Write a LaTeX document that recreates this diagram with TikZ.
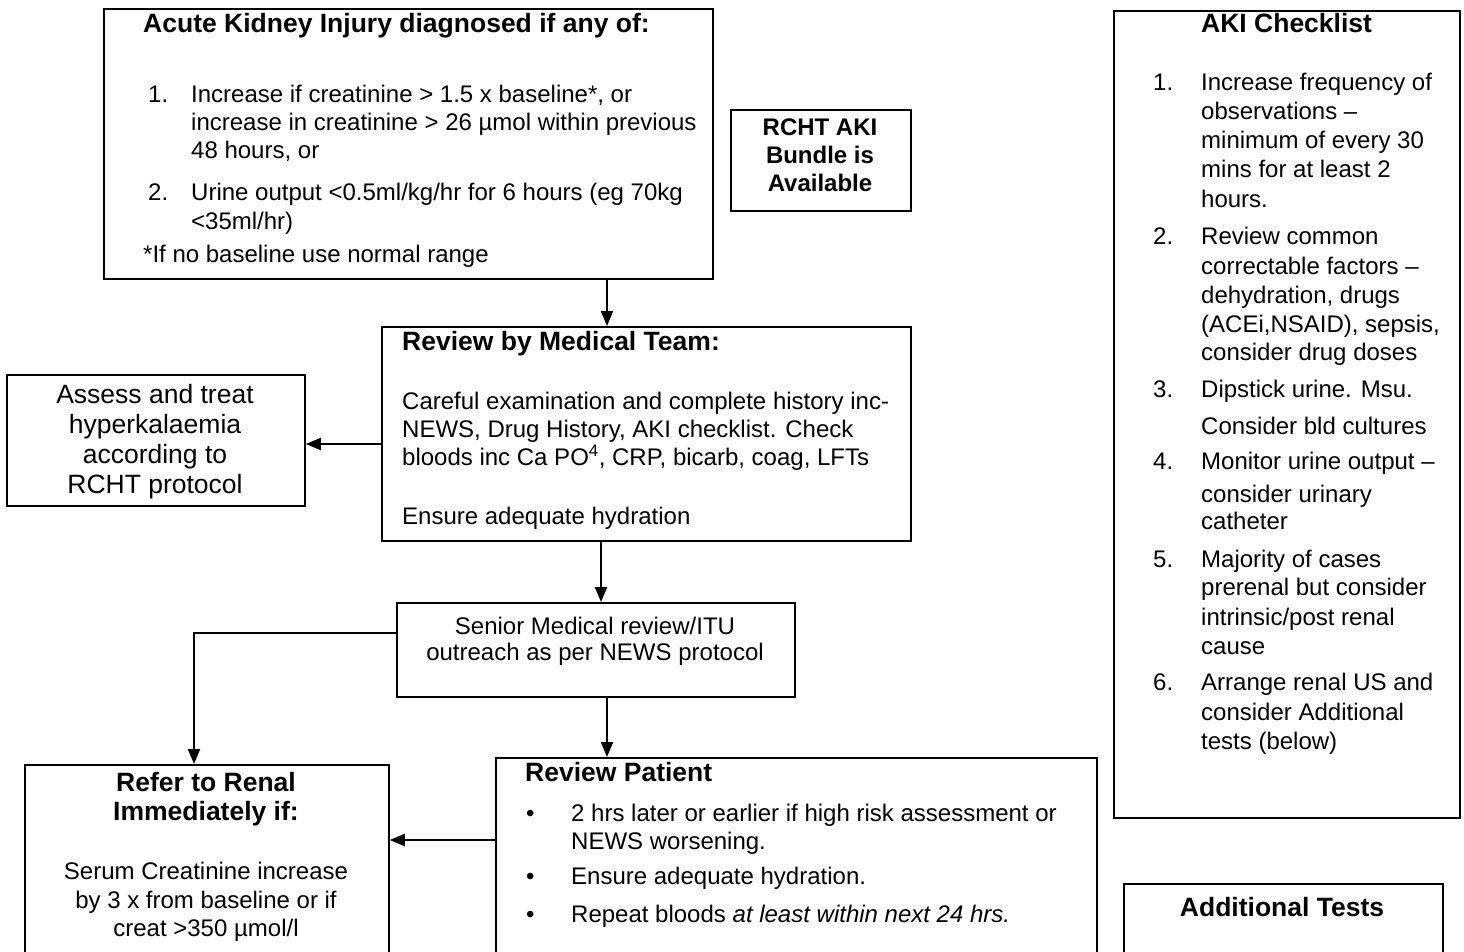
\documentclass[tikz,border=0pt]{standalone}
\usepackage{fontspec}
\setmainfont{Liberation Sans}
\usetikzlibrary{arrows.meta}
\begin{document}
\begin{tikzpicture}[x=1pt,y=-1pt,
  box/.style={draw, line width=1.8pt, inner sep=0pt, anchor=north west},
  conn/.style={line width=2pt, -{Triangle[length=15pt,width=12pt]}},
  bt/.style={anchor=base west, inner sep=0pt, font=\fontsize{24}{28}\selectfont},
  bc/.style={anchor=base, inner sep=0pt, font=\fontsize{24}{28}\selectfont},
  bcb/.style={anchor=base, inner sep=0pt, font=\fontsize{24}{28}\selectfont\bfseries},
  lc/.style={anchor=base, inner sep=0pt, font=\fontsize{26.5}{30}\selectfont},
  tt/.style={anchor=base west, inner sep=0pt, font=\fontsize{26.5}{30}\selectfont\bfseries},
  tc/.style={anchor=base, inner sep=0pt, font=\fontsize{26.5}{30}\selectfont\bfseries}]
\useasboundingbox (0,0) rectangle (1464,951);
\fill[white] (0,0) rectangle (1464,951);
\clip (0,0) rectangle (1464,951);

% boxes
\node[box, minimum width=609pt, minimum height=270pt] (aki) at (103,8) {};
\node[box, minimum width=180pt, minimum height=101pt] (rcht) at (730,109) {};
\node[box, minimum width=529pt, minimum height=214pt] (rev) at (381,326) {};
\node[box, minimum width=298pt, minimum height=131pt] (assess) at (6,374) {};
\node[box, minimum width=398pt, minimum height=94pt] (senior) at (396,602) {};
\node[box, minimum width=364pt, minimum height=230pt] (refer) at (24,764) {};
\node[box, minimum width=601pt, minimum height=240pt] (revp) at (495,757) {};
\node[box, minimum width=346pt, minimum height=807pt] (chk) at (1113,10) {};
\node[box, minimum width=319pt, minimum height=120pt] (addt) at (1123,883) {};

% AKI box text
\node[tt] (a0) at (143,32.5) {Acute Kidney Injury diagnosed if any of:};
\node[bt] (a1n) at (148,102.5) {1.};
\node[bt] (a1) at (191,102.5) {Increase if creatinine > 1.5 x baseline*, or};
\node[bt] (a2) at (191,130.5) {increase in creatinine > 26 µmol within previous};
\node[bt] (a3) at (191,158.5) {48 hours, or};
\node[bt] (a4n) at (148,200.5) {2.};
\node[bt] (a4) at (191,200.5) {Urine output <0.5ml/kg/hr for 6 hours (eg 70kg};
\node[bt] (a5) at (191,229.5) {<35ml/hr)};
\node[bt] (a6) at (143,262.5) {*If no baseline use normal range};

% RCHT box
\node[bcb] (r1) at (820,135.5) {RCHT AKI};
\node[bcb] (r2) at (820,163.5) {Bundle is};
\node[bcb] (r3) at (820,191.5) {Available};

% Review by medical team
\node[tt] (m0) at (402,350.5) {Review by Medical Team:};
\node[bt] (m1) at (402,409.5) {Careful examination and complete history inc-};
\node[bt] (m2) at (402,437.5) {NEWS, Drug History, AKI checklist. Check};
\node[bt] (m3) at (402,465.5) {bloods inc Ca PO\textsuperscript{4}, CRP, bicarb, coag, LFTs};
\node[bt] (m4) at (402,524.5) {Ensure adequate hydration};

% Assess box
\node[lc] (h1) at (155,403.5) {Assess and treat};
\node[lc] (h2) at (155,433.5) {hyperkalaemia};
\node[lc] (h3) at (155,463.5) {according to};
\node[lc] (h4) at (155,493.5) {RCHT protocol};

% Senior box
\node[bc] (s1) at (595,634.5) {Senior Medical review/ITU};
\node[bc] (s2) at (595,660.5) {outreach as per NEWS protocol};

% Refer box
\node[tc] (f1) at (206,791.5) {Refer to Renal};
\node[tc] (f2) at (206,820.5) {Immediately if:};
\node[bc] (f3) at (206,879.5) {Serum Creatinine increase};
\node[bc] (f4) at (206,908.5) {by 3 x from baseline or if};
\node[bc] (f5) at (206,936.5) {creat >350 µmol/l};

% Review patient
\node[tt] (p0) at (525,781.5) {Review Patient};
\node[bt] (p1b) at (526,821.5) {•};
\node[bt] (p1) at (571,821.5) {2 hrs later or earlier if high risk assessment or};
\node[bt] (p2) at (571,849.5) {NEWS worsening.};
\node[bt] (p3b) at (526,884.5) {•};
\node[bt] (p3) at (571,884.5) {Ensure adequate hydration.};
\node[bt] (p4b) at (526,922.5) {•};
\node[bt] (p4) at (571,922.5) {Repeat bloods \textit{at least within next 24 hrs.}};

% AKI checklist
\node[tt] (c0) at (1201,32.5) {AKI Checklist};
\node[bt] (c1n) at (1153,90.5) {1.};
\node[bt] (c1a) at (1201,90.5) {Increase frequency of};
\node[bt] (c1b) at (1201,119.5) {observations –};
\node[bt] (c1c) at (1201,148.5) {minimum of every 30};
\node[bt] (c1d) at (1201,177.5) {mins for at least 2};
\node[bt] (c1e) at (1201,207.5) {hours.};
\node[bt] (c2n) at (1153,244.5) {2.};
\node[bt] (c2a) at (1201,244.5) {Review common};
\node[bt] (c2b) at (1201,274.5) {correctable factors –};
\node[bt] (c2c) at (1201,303.5) {dehydration, drugs};
\node[bt] (c2d) at (1201,332.5) {(ACEi,NSAID), sepsis,};
\node[bt] (c2e) at (1201,360.5) {consider drug doses};
\node[bt] (c3n) at (1153,397.5) {3.};
\node[bt] (c3a) at (1201,397.5) {Dipstick urine. Msu.};
\node[bt] (c3b) at (1201,434.5) {Consider bld cultures};
\node[bt] (c4n) at (1153,469.5) {4.};
\node[bt] (c4a) at (1201,469.5) {Monitor urine output –};
\node[bt] (c4b) at (1201,502.5) {consider urinary};
\node[bt] (c4c) at (1201,529.5) {catheter};
\node[bt] (c5n) at (1153,567.5) {5.};
\node[bt] (c5a) at (1201,567.5) {Majority of cases};
\node[bt] (c5b) at (1201,595.5) {prerenal but consider};
\node[bt] (c5c) at (1201,625.5) {intrinsic/post renal};
\node[bt] (c5d) at (1201,654.5) {cause};
\node[bt] (c6n) at (1153,690.5) {6.};
\node[bt] (c6a) at (1201,690.5) {Arrange renal US and};
\node[bt] (c6b) at (1201,720.5) {consider Additional};
\node[bt] (c6c) at (1201,749.5) {tests (below)};

% Additional tests
\node[tc] (t0) at (1282,916.5) {Additional Tests};

% connector guide coordinates
\coordinate (xa) at (607,0);
\coordinate (xb) at (601,0);
\coordinate (xr) at (194,0);
\coordinate (ya) at (0,444);
\coordinate (ys) at (0,633);
\coordinate (yp) at (0,840);

% connectors
\draw[conn] (aki.south -| xa) -- (rev.north -| xa);
\draw[conn] (rev.west |- ya) -- (assess.east |- ya);
\draw[conn] (rev.south -| xb) -- (senior.north -| xb);
\draw[conn] (senior.west |- ys) -| (refer.north -| xr);
\draw[conn] (senior.south -| xa) -- (revp.north -| xa);
\draw[conn] (revp.west |- yp) -- (refer.east |- yp);
\end{tikzpicture}
\end{document}
